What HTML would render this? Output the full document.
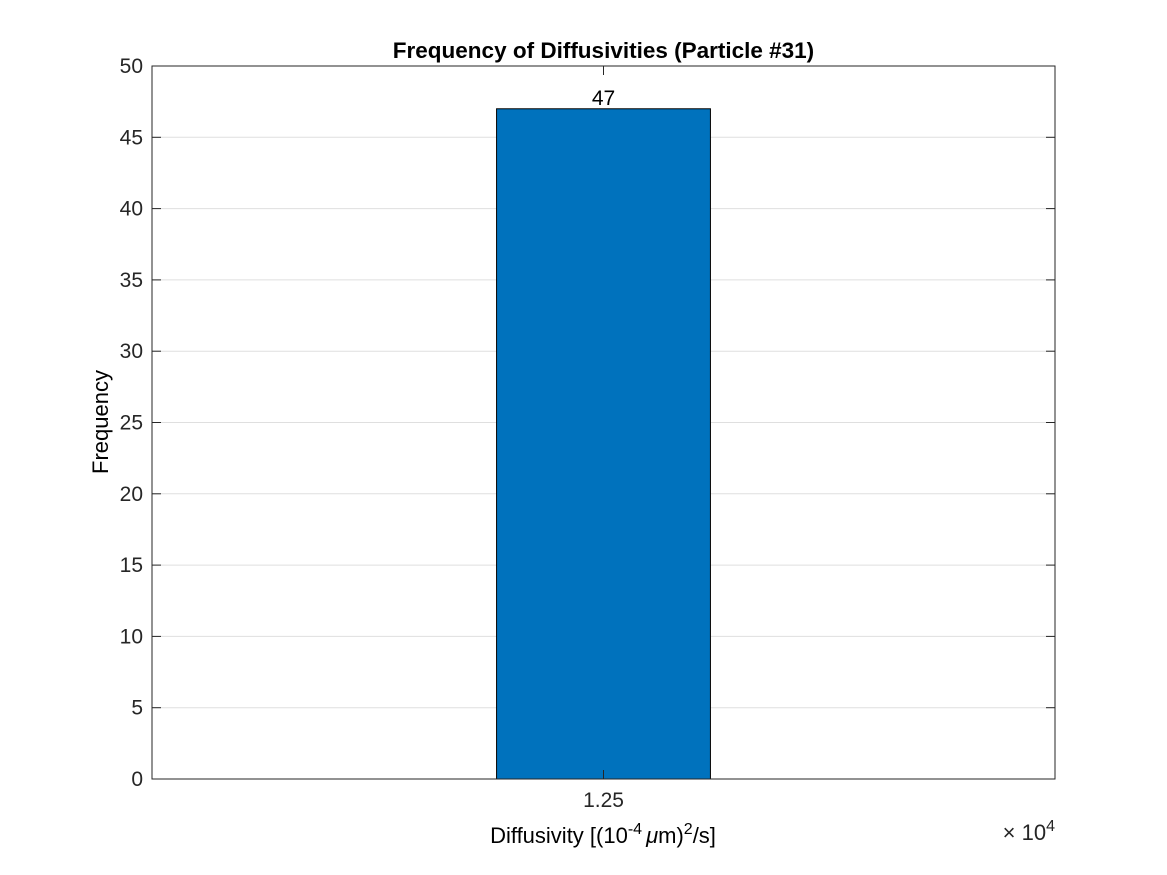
<!DOCTYPE html>
<html><head><meta charset="utf-8"><style>
body{margin:0;background:#fff;}
svg{display:block;font-family:"Liberation Sans",Arial,sans-serif;}
</style></head><body>
<svg id="chart" width="1167" height="875">
<rect width="1167" height="875" fill="#fff"/>
<g id="grid"></g>
<g id="bars"></g>
<g id="axes"></g>
<text x="603.5" y="58" text-anchor="middle" font-size="22.5" font-weight="bold">Frequency of Diffusivities (Particle #31)</text>
<text x="603" y="843" text-anchor="middle" font-size="22">Diffusivity [(10<tspan dy="-9" font-size="16">-4</tspan><tspan dy="9" dx="4" font-style="italic">μ</tspan>m)<tspan dy="-9" font-size="16">2</tspan><tspan dy="9">/s]</tspan></text>
<text transform="translate(108,422) rotate(-90)" text-anchor="middle" font-size="22">Frequency</text>
<text x="1055" y="840" text-anchor="end" font-size="22" fill="#262626">× 10<tspan dy="-9" font-size="16">4</tspan></text>
</svg>
<script>
const binEdges=[1.205,1.295];
const counts=[47];
const barLabels=["47"];
const xTicks=[1.25];
const xTickLabels=["1.25"];
const yTicks=[0,5,10,15,20,25,30,35,40,45,50];
const xDomain=[1.06,1.44];
const yDomain=[0,50];
const L=152,R=1055,T=66,B=779;
const ns="http://www.w3.org/2000/svg";
function X(v){return L+(v-xDomain[0])/(xDomain[1]-xDomain[0])*(R-L);}
function Y(v){return B-(v-yDomain[0])/(yDomain[1]-yDomain[0])*(B-T);}
function mk(tag,attrs,parent){const e=document.createElementNS(ns,tag);for(const k in attrs)e.setAttribute(k,attrs[k]);document.getElementById(parent).appendChild(e);return e;}
yTicks.forEach(t=>{
 if(t>yDomain[0]&&t<yDomain[1]){const g=mk('line',{x1:L,x2:R,y1:Y(t),y2:Y(t),stroke:'#dfdfdf','stroke-width':1},'grid');
 
 }
 const tl=mk('line',{x1:L,x2:L+9,y1:Y(t),y2:Y(t),stroke:'#262626'},'axes');
 
 
 const tr=mk('line',{x1:R-9,x2:R,y1:Y(t),y2:Y(t),stroke:'#262626'},'axes');
 
 
 const lb=mk('text',{x:L-9,y:Y(t)+7,'text-anchor':'end','font-size':21,fill:'#262626'},'axes');
 lb.textContent=t;
 
 
});
for(let i=0;i<counts.length;i++){
 const x0=X(binEdges[i]),x1=X(binEdges[i+1]);
 const r=mk('rect',{x:x0,y:Y(counts[i]),width:x1-x0,height:Y(0)-Y(counts[i]),fill:'#0072bd',stroke:'#000','stroke-width':1},'bars');
 
 
 const t=mk('text',{x:(x0+x1)/2,y:Y(counts[i])-4,'text-anchor':'middle','font-size':21},'bars');
 t.textContent=barLabels[i];
 
 
}
xTicks.forEach((t,i)=>{
 const a=mk('line',{x1:X(t),x2:X(t),y1:B,y2:B-9,stroke:'#262626'},'axes');
 
 
 const b=mk('line',{x1:X(t),x2:X(t),y1:T,y2:T+9,stroke:'#262626'},'axes');
 
 
 const lb=mk('text',{x:X(t),y:B+28,'text-anchor':'middle','font-size':21,fill:'#262626'},'axes');
 lb.textContent=xTickLabels[i];
 
 
});
const box=mk('rect',{x:L,y:T,width:R-L,height:B-T,fill:'none',stroke:'#262626','stroke-width':1},'axes');


</script>
</body></html>
